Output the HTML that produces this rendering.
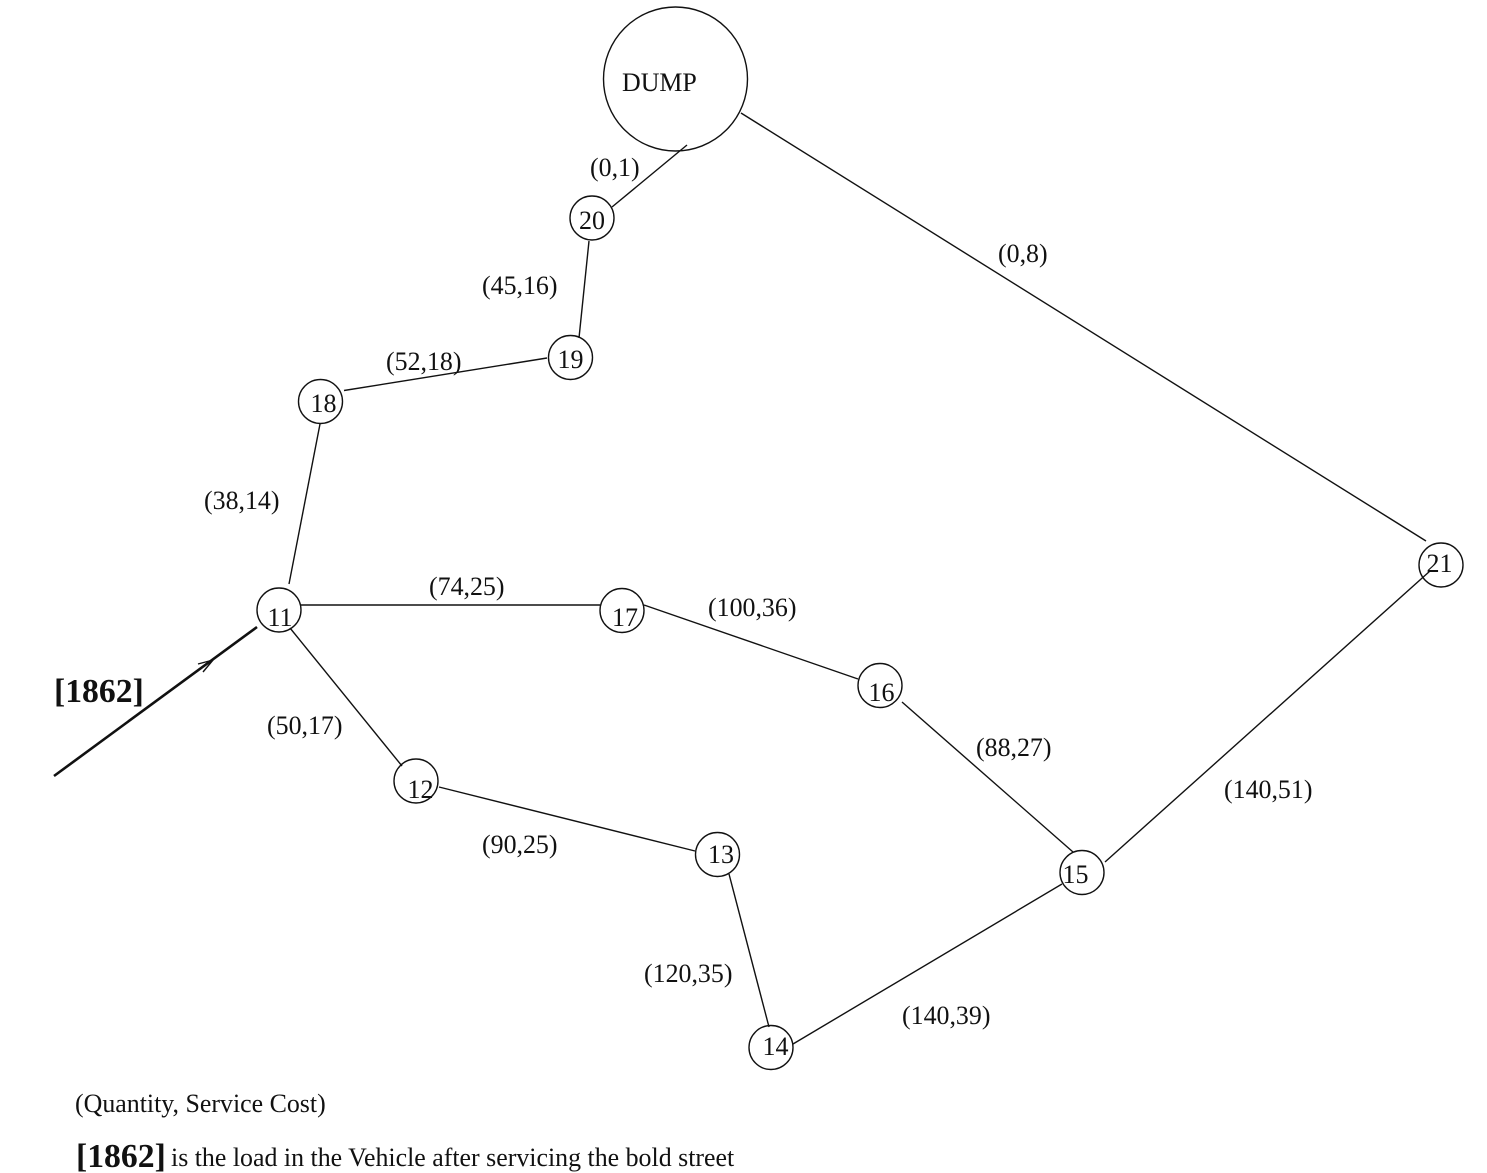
<!DOCTYPE html>
<html>
<head>
<meta charset="utf-8">
<style>
html,body{margin:0;padding:0;background:#fff;}
svg{display:block;}
text{font-family:"Liberation Serif",serif;fill:#111;}
.l{font-size:25.9px;}
.n{font-size:26px;}
</style>
</head>
<body>
<svg width="1487" height="1173" viewBox="0 0 1487 1173" xmlns="http://www.w3.org/2000/svg">
<g fill="none" stroke="#111" stroke-width="1.4">
<circle cx="675.5" cy="79" r="72"/>
<circle cx="592" cy="218" r="22"/>
<circle cx="570.5" cy="357.5" r="22"/>
<circle cx="320.5" cy="401.5" r="22"/>
<circle cx="279" cy="610" r="22"/>
<circle cx="622" cy="610.5" r="22"/>
<circle cx="880" cy="685.5" r="22"/>
<circle cx="416" cy="781" r="22"/>
<circle cx="717.5" cy="854.5" r="22"/>
<circle cx="1082" cy="872.5" r="22"/>
<circle cx="771" cy="1047.5" r="22"/>
<circle cx="1441" cy="565" r="22"/>
<line x1="687" y1="145" x2="612" y2="207"/>
<line x1="741" y1="113" x2="1426" y2="541"/>
<line x1="589" y1="241" x2="579" y2="338"/>
<line x1="547" y1="358" x2="344" y2="390.5"/>
<line x1="320" y1="424" x2="289" y2="584"/>
<line x1="301" y1="605" x2="600" y2="605"/>
<line x1="644" y1="605" x2="858" y2="679"/>
<line x1="902" y1="702" x2="1073" y2="852"/>
<line x1="1105" y1="862" x2="1430" y2="571"/>
<line x1="290" y1="628" x2="402" y2="766"/>
<line x1="439" y1="787" x2="695" y2="851"/>
<line x1="729" y1="874" x2="769" y2="1027"/>
<line x1="793" y1="1044" x2="1062" y2="884"/>
<line x1="198" y1="664" x2="213" y2="660"/>
<line x1="203" y1="672" x2="213" y2="660"/>
</g>
<line x1="54" y1="776" x2="257" y2="627" stroke="#111" stroke-width="2.6"/>
<text class="l" x="622" y="91">DUMP</text>
<text class="n" x="579" y="229">20</text>
<text class="n" x="557.5" y="368">19</text>
<text class="n" x="310.5" y="412">18</text>
<text class="n" x="267.5" y="626">11</text>
<text class="n" x="612" y="626">17</text>
<text class="n" x="868.5" y="701">16</text>
<text class="n" x="407.5" y="798">12</text>
<text class="n" x="708" y="863">13</text>
<text class="n" x="1062.5" y="883">15</text>
<text class="n" x="762.5" y="1055">14</text>
<text class="n" x="1426.5" y="572">21</text>
<text class="l" x="590" y="176">(0,1)</text>
<text class="l" x="998" y="262">(0,8)</text>
<text class="l" x="482" y="294">(45,16)</text>
<text class="l" x="386" y="370">(52,18)</text>
<text class="l" x="204" y="509">(38,14)</text>
<text class="l" x="429" y="595">(74,25)</text>
<text class="l" x="708" y="616">(100,36)</text>
<text class="l" x="267" y="734">(50,17)</text>
<text class="l" x="976" y="756">(88,27)</text>
<text class="l" x="1224" y="798">(140,51)</text>
<text class="l" x="482" y="853">(90,25)</text>
<text class="l" x="644" y="982">(120,35)</text>
<text class="l" x="902" y="1024">(140,39)</text>
<text x="54" y="702" font-size="33.7" font-weight="bold">[1862]</text>
<text class="l" x="75" y="1112">(Quantity, Service Cost)</text>
<text x="76" y="1167" font-size="33.7" font-weight="bold">[1862]</text>
<text class="l" x="171" y="1166">is the load in the Vehicle after servicing the bold street</text>
</svg>
</body>
</html>
